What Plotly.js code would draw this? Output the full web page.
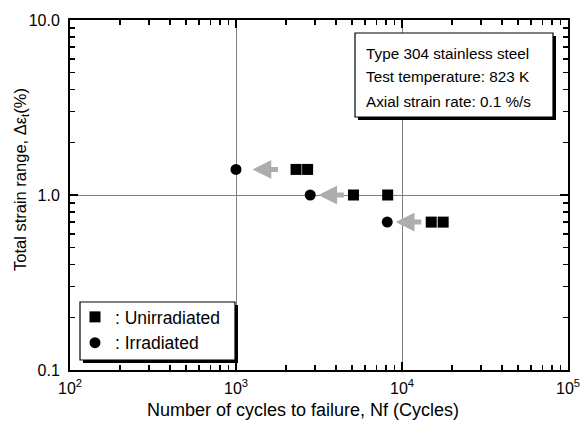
<!DOCTYPE html>
<html>
<head>
<meta charset="utf-8">
<script src="https://cdn.plot.ly/plotly-3.0.1.min.js"></script>
<style>html,body{margin:0;padding:0;background:#fff;}#chart{width:587px;height:422px;}</style>
</head>
<body>
<div id="chart"></div>
<script>
// Data
var strainRange = [1.4, 1.0, 0.7];                       // total strain range (%)
var unirrCyclesA = [2300, 5100, 15000];                 // unirradiated, specimen A
var unirrCyclesB = [2700, 8200, 17700];                 // unirradiated, specimen B
var irrCycles = [1000, 2800, 8150];                     // irradiated
var xTickVals = [100, 1000, 10000, 100000];
var xTickText = ['10<sup>2</sup>', '10<sup>3</sup>', '10<sup>4</sup>', '10<sup>5</sup>'];
var yTickVals = [0.1, 1, 10];
var yTickText = ['0.1', '1.0', '10.0'];
var infoLines = ['Type 304 stainless steel', 'Test temperature: 823 K', 'Axial strain rate: 0.1 %/s'];
var xTitle = 'Number of cycles to failure, Nf (Cycles)';
var yTitle = 'Total strain range, \u0394\u03b5<sub>t</sub>(%)';

var FONT = 'Liberation Sans, Arial, Helvetica, sans-serif';

function minorVals(lo, hi) {
  var v = [];
  for (var d = lo; d < hi; d *= 10) for (var k = 2; k <= 9; k++) v.push(d * k);
  return v;
}

var uX = [], uY = [];
for (var i = 0; i < strainRange.length; i++) {
  uX.push(unirrCyclesA[i], unirrCyclesB[i]);
  uY.push(strainRange[i], strainRange[i]);
}

var traces = [
  {x: uX, y: uY, type: 'scatter', mode: 'markers', name: ': Unirradiated',
   marker: {symbol: 'square', size: 11, color: '#000'}, cliponaxis: false},
  {x: irrCycles, y: strainRange, type: 'scatter', mode: 'markers', name: ': Irradiated',
   marker: {symbol: 'circle', size: 11, color: '#000'}, cliponaxis: false}
];

// Plot geometry (px) used for overlay boxes
var L = 70, T = 20, W = 498, H = 350;
function px(x) { return (x - L) / W; }
function py(y) { return 1 - (y - T) / H; }

var annotations = [];
// Arrows: centred between irradiated point and first unirradiated point
var halfLen = 13.5 / (W / 3); // decades
for (var j = 0; j < strainRange.length; j++) {
  var mid = (Math.log10(irrCycles[j]) + Math.log10(unirrCyclesA[j])) / 2;
  var ly = Math.log10(strainRange[j]);
  annotations.push({
    x: mid - halfLen, y: ly, ax: mid + halfLen, ay: ly,
    xref: 'x', yref: 'y', axref: 'x', ayref: 'y',
    text: '', showarrow: true, arrowhead: 2, arrowsize: 0.75, arrowwidth: 5,
    arrowcolor: '#adadad', standoff: 0, startstandoff: 0
  });
}
var infoY = [53, 77, 101];
for (var k = 0; k < infoLines.length; k++) {
  annotations.push({
    xref: 'paper', yref: 'paper', x: px(364), y: py(infoY[k]),
    xanchor: 'left', yanchor: 'middle', showarrow: false,
    text: infoLines[k], font: {family: FONT, size: 15.3, color: '#000'}
  });
}
// axis titles
annotations.push({
  xref: 'paper', yref: 'paper', x: px(303), y: py(410), xanchor: 'center', yanchor: 'middle',
  showarrow: false, text: xTitle, font: {family: FONT, size: 18, color: '#000'}
});
annotations.push({
  xref: 'paper', yref: 'paper', x: px(21), y: py(180), xanchor: 'center', yanchor: 'middle',
  showarrow: false, textangle: -90, text: yTitle, font: {family: FONT, size: 16.5, color: '#000'}
});

var shapes = [
  // info box shadow + box
  {type: 'rect', xref: 'paper', yref: 'paper', x0: px(358), x1: px(556), y0: py(120), y1: py(36),
   fillcolor: '#000', line: {width: 0}},
  {type: 'rect', xref: 'paper', yref: 'paper', x0: px(355), x1: px(553), y0: py(117), y1: py(33),
   fillcolor: '#fff', line: {color: '#000', width: 1.2}},
  // legend box shadow + box
  {type: 'rect', xref: 'paper', yref: 'paper', x0: px(83), x1: px(238), y0: py(363), y1: py(305),
   fillcolor: '#000', line: {width: 0}},
  {type: 'rect', xref: 'paper', yref: 'paper', x0: px(80), x1: px(235), y0: py(360), y1: py(302),
   fillcolor: '#fff', line: {color: '#000', width: 1.2}}
];

var axisCommon = {
  type: 'log', showline: true, linecolor: '#000', linewidth: 2, mirror: 'ticks',
  ticks: 'inside', ticklen: 8, tickwidth: 1.5, tickcolor: '#000',
  showgrid: true, gridcolor: '#808080', gridwidth: 1, zeroline: false,
  tickfont: {family: FONT, size: 16, color: '#000'}
};

var layout = {
  width: 587, height: 422,
  margin: {l: L, r: 587 - L - W, t: T, b: 422 - T - H},
  paper_bgcolor: '#fff', plot_bgcolor: '#fff',
  font: {family: FONT, color: '#000'},
  showlegend: true,
  legend: {x: px(75), y: py(299), xanchor: 'left', yanchor: 'top',
           bgcolor: 'rgba(0,0,0,0)', borderwidth: 0,
           font: {family: FONT, size: 17.5, color: '#000'}},
  xaxis: Object.assign({}, axisCommon, {
    range: [2, 5], tickmode: 'array', tickvals: xTickVals, ticktext: xTickText,
    ticklabelstandoff: 3,
    minor: {tickmode: 'array', tickvals: minorVals(100, 100000), ticks: 'inside', ticklen: 5,
            tickwidth: 1.5, tickcolor: '#000', showgrid: false}
  }),
  yaxis: Object.assign({}, axisCommon, {
    range: [-1, 1], tickmode: 'array', tickvals: yTickVals, ticktext: yTickText,
    ticklabelstandoff: 5,
    minor: {tickmode: 'array', tickvals: minorVals(0.1, 10), ticks: 'inside', ticklen: 5,
            tickwidth: 1.5, tickcolor: '#000', showgrid: false}
  }),
  shapes: shapes,
  annotations: annotations
};

Plotly.newPlot('chart', traces, layout, {displayModeBar: false, staticPlot: true});
</script>
</body>
</html>
